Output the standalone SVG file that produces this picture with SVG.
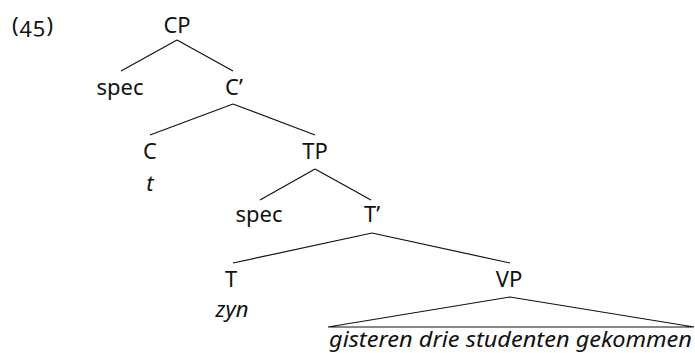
<svg xmlns="http://www.w3.org/2000/svg" width="695" height="353" viewBox="0 0 695 353">
  <style>
    text { font-family: "Noto Sans", "Open Sans", sans-serif; font-size: 22px; fill: #111; text-anchor: middle; }
    .it { font-style: italic; }
    .num { text-anchor: start; font-variant-numeric: oldstyle-nums; }
    .edge { stroke: #111; stroke-width: 1.2; fill: none; }
  </style>
  <rect width="695" height="353" fill="#fff"/>
  <text class="num" x="12" y="33" textLength="41">(45)</text>

  <g id="connectors">
    <line class="edge" x1="177" y1="40" x2="121" y2="71"/>
    <line class="edge" x1="177" y1="40" x2="233" y2="71"/>
    <line class="edge" x1="233" y1="104" x2="150" y2="135"/>
    <line class="edge" x1="233" y1="104" x2="315" y2="135"/>
    <line class="edge" x1="315" y1="169" x2="260" y2="200"/>
    <line class="edge" x1="315" y1="169" x2="371" y2="200"/>
    <line class="edge" x1="372" y1="233" x2="233" y2="263"/>
    <line class="edge" x1="372" y1="233" x2="510" y2="263"/>
    <polygon class="edge" points="510,297 328,327 694,327"/>
  </g>

  <g id="cp"><text x="177" y="33">CP</text></g>
  <g id="spec-c"><text x="120" y="95">spec</text></g>
  <g id="c-bar"><text x="234" y="95">C’</text></g>
  <g id="c"><text x="150" y="159">C</text><text class="it" x="150" y="191">t</text></g>
  <g id="tp"><text x="315" y="159">TP</text></g>
  <g id="spec-t"><text x="259" y="222">spec</text></g>
  <g id="t-bar"><text x="372" y="222">T’</text></g>
  <g id="t"><text x="231" y="287">T</text><text class="it" x="232" y="317">zyn</text></g>
  <g id="vp"><text x="509" y="287">VP</text></g>
  <g id="vp-yield"><text class="it" x="329" y="347" style="text-anchor:start" textLength="363" lengthAdjust="spacingAndGlyphs">gisteren drie studenten gekommen</text></g>
</svg>
